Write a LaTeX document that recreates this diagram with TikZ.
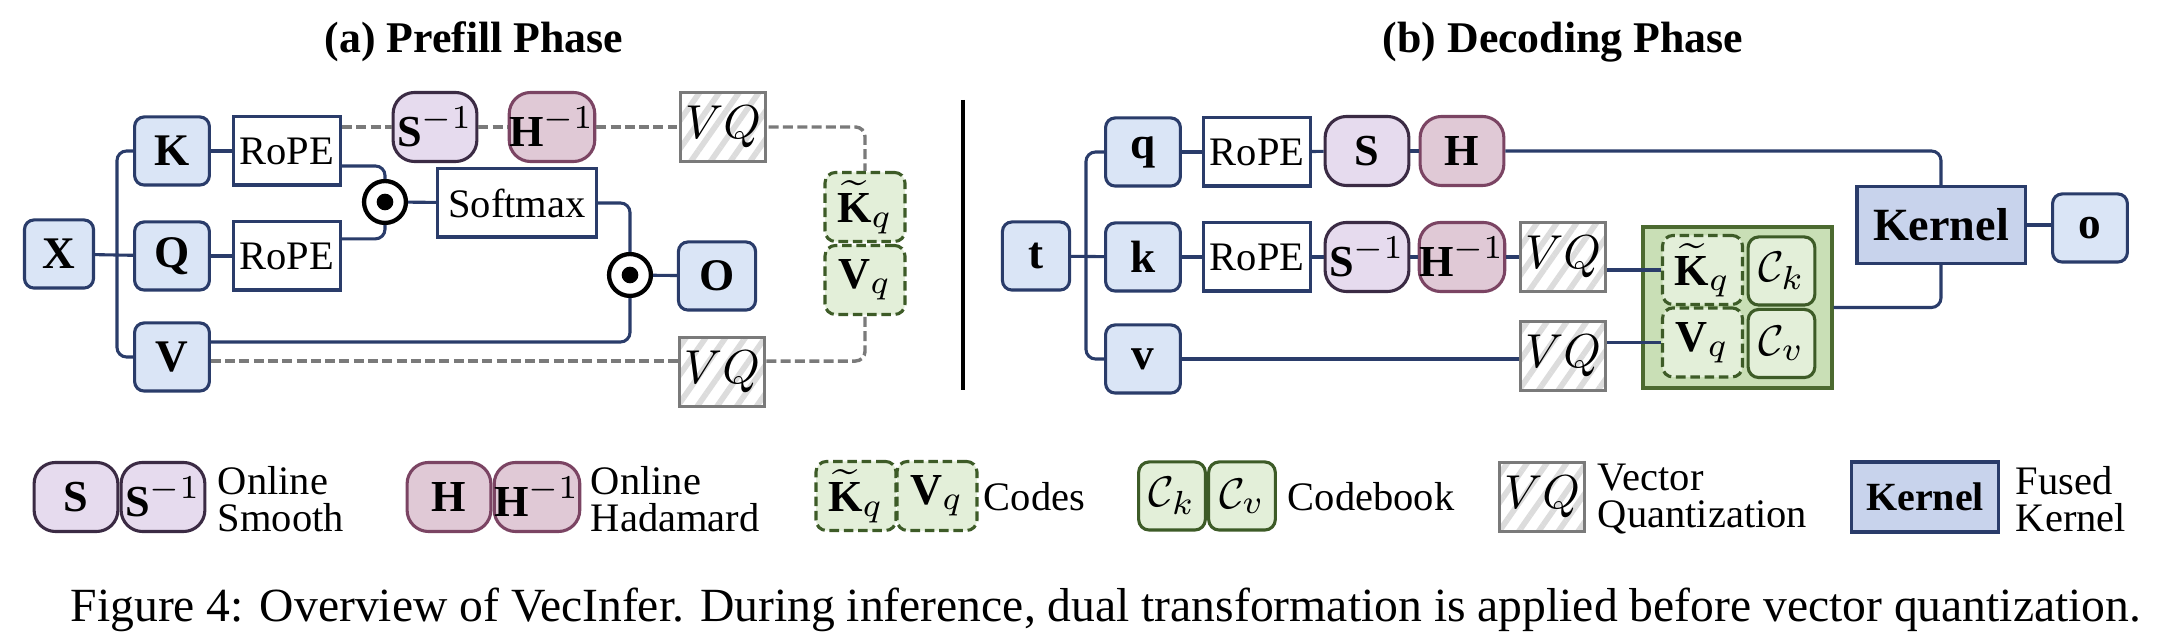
\documentclass[tikz,border=0pt]{standalone}
\usepackage{amsmath}
\usepackage{amssymb}
\usepackage{xcolor}
\usepackage{fontspec}
\setmainfont{Liberation Serif}
\usetikzlibrary{patterns.meta}
\definecolor{navy}{HTML}{2A3C6A}
\definecolor{vecfill}{HTML}{DAE5F6}
\definecolor{kernfill}{HTML}{C8D3EC}
\definecolor{smfill}{HTML}{E6DBEE}
\definecolor{smline}{HTML}{3B2B44}
\definecolor{hdfill}{HTML}{E0C9D6}
\definecolor{hdline}{HTML}{7B4463}
\definecolor{codefill}{HTML}{E3EFD9}
\definecolor{codeline}{HTML}{3D5B27}
\definecolor{bookfill}{HTML}{C9DFB6}
\definecolor{bookline}{HTML}{4C6A30}
\definecolor{vqline}{HTML}{7A7A7A}
\definecolor{vqstripe}{HTML}{DCDCDC}
\newlength{\lw}
\setlength{\lw}{0.65pt}

\tikzset{
  vecbox/.style={draw=navy,fill=vecfill,line width=\lw,rounded corners=2pt,
    minimum width=15.7pt,minimum height=14.3pt,inner sep=0pt,font={\fontsize{9.5}{11}\selectfont}},
  ropebox/.style={draw=navy,fill=white,line width=\lw,minimum width=22.5pt,
    minimum height=14.3pt,inner sep=0pt,font={\fontsize{8.5}{10}\selectfont}},
  smbox/.style={draw=smline,fill=smfill,line width=\lw,rounded corners=4.5pt,
    minimum width=17.6pt,minimum height=14.5pt,inner sep=0pt,font={\fontsize{9.3}{11}\selectfont}},
  hdbox/.style={smbox,draw=hdline,fill=hdfill},
  vqbox/.style={draw=vqline,line width=\lw,pattern={Lines[angle=55,distance=3.4pt,line width=1.2pt]},
    pattern color=vqstripe,minimum width=18pt,minimum height=14.5pt,inner sep=0pt,
    font={\fontsize{10}{12}\selectfont}},
  codebox/.style={draw=codeline,fill=codefill,line width=\lw,dash pattern=on 2pt off 1pt,
    rounded corners=2.2pt,minimum width=16.8pt,minimum height=14.5pt,inner sep=0pt,
    font={\fontsize{9.3}{11}\selectfont}},
  bookbox/.style={codebox,solid,minimum width=14pt,minimum height=14.3pt},
  kernbox/.style={draw=navy,fill=kernfill,line width=\lw,minimum width=35.3pt,
    minimum height=16.2pt,inner sep=0pt,font={\fontsize{9.7}{11}\selectfont\bfseries}},
  dotop/.style={circle,draw=black,line width=0.9pt,fill=white,minimum size=8.8pt,inner sep=0pt},
  conn/.style={draw=navy,line width=\lw,rounded corners=2pt},
  dashconn/.style={draw=vqline,line width=0.72pt,dash pattern=on 2.1pt off 0.9pt,rounded corners=2pt},
  titletext/.style={anchor=base,font={\fontsize{9.2}{11}\selectfont\bfseries}},
  legtext/.style={anchor=west,align=left,inner sep=0pt,font={\fontsize{8.5}{7.8}\selectfont}}
}

\begin{document}
\begin{tikzpicture}[x=0.21pt,y=-0.21pt]
            \useasboundingbox (0,0) rectangle (2166,640);
            % (a) prefill
            \node[titletext] (ta) at (474,53) {(a) Prefill Phase};
            \node[vecbox,minimum width=14.5pt] (xx) at (59,254) {\textbf{X}};
            \node[vecbox] (kk) at (172,151) {\textbf{K}};
            \node[vecbox] (qq) at (172,256) {\textbf{Q}};
            \node[vecbox] (vv) at (172,357) {\textbf{V}};
            \node[ropebox] (ropeK) at (287,151) {RoPE};
            \node[ropebox] (ropeQ) at (287,256) {RoPE};
            \node[dotop] (dot1) at (385,202) {};
            \node[ropebox,minimum width=33.4pt] (soft) at (517,203) {Softmax};
            \node[dotop] (dot2) at (630,275) {};
            \node[vecbox,minimum width=16.2pt] (oo) at (717,276) {\textbf{O}};
            \node[smbox] (s1) at (435,127) {$\textbf{S}^{-1}$};
            \node[hdbox] (h1) at (552,127) {$\textbf{H}^{-1}$};
            \node[vqbox] (vq1) at (723,127) {$VQ$};
            \node[vqbox] (vq2) at (722,372) {$VQ$};
            \node[codebox] (kqp) at (865,207) {$\widetilde{\textbf{K}}_q$};
            \node[codebox] (vqp) at (865,280) {$\textbf{V}_q$};
            \fill (dot1) circle[radius=1.75pt];
            \fill (dot2) circle[radius=1.75pt];
            \coordinate (xtr) at (117,254);
            \draw[conn] (xx) -- (qq);
            \draw[conn] (kk.west) -| (xtr) |- (vv.west);
            \draw[conn] (kk) -- (ropeK);
            \draw[conn] (qq) -- (ropeQ);
            \draw[conn] ([yshift=-3.15pt]ropeK.east) -| (dot1.north);
            \draw[conn] ([yshift=3.6pt]ropeQ.east) -| (dot1.south);
            \draw[conn] (dot1) -- (soft);
            \draw[conn] (soft.east) -| (dot2.north);
            \draw[conn] ([yshift=3.15pt]vv.east) -| (dot2.south);
            \draw[conn] (dot2) -- (oo);
            \draw[dashconn] (ropeK.east |- s1.west) -- (s1.west);
            \draw[dashconn] (s1) -- (h1);
            \draw[dashconn] (h1) -- (vq1);
            \draw[dashconn] (vq1.east) -| (kqp.north);
            \coordinate (vdash) at ([yshift=-0.85pt]vv.east);
            \draw[dashconn] (vdash) -- (vdash -| vq2.west);
            \draw[dashconn] (vdash -| vq2.east) -| (vqp.south);
            \coordinate (sept) at (963,100);
            \coordinate (sepb) at (963,390);
            \draw[line width=0.75pt] (sept) -- (sepb);
            % (b) decoding
            \node[titletext] (tb) at (1563,53) {(b) Decoding Phase};
            \node[vecbox,minimum width=14.1pt] (tt) at (1036,256) {\textbf{t}};
            \node[vecbox] (qb) at (1143,152) {\textbf{q}};
            \node[vecbox] (kb) at (1143,257) {\textbf{k}};
            \node[vecbox] (vb) at (1143,359) {\textbf{v}};
            \node[ropebox] (ropeq) at (1257,152) {RoPE};
            \node[ropebox] (ropek) at (1257,257) {RoPE};
            \node[smbox] (sq) at (1367,151) {$\textbf{S}$};
            \node[hdbox] (hq) at (1462,151) {$\textbf{H}$};
            \node[smbox] (s1k) at (1367,257) {$\textbf{S}^{-1}$};
            \node[hdbox] (h1k) at (1462,257) {$\textbf{H}^{-1}$};
            \node[vqbox] (vqk) at (1563,257) {$VQ$};
            \node[vqbox] (vqv) at (1563,356) {$VQ$};
            \node[draw=bookline,fill=bookfill,line width=\lw,minimum width=39.7pt,minimum height=33.8pt] (book) at (1737.5,307.5) {};
            \node[codebox] (kqin) at (1702.5,270) {$\widetilde{\textbf{K}}_q$};
            \node[bookbox] (ckin) at (1781.5,271) {$\mathcal{C}_k$};
            \node[codebox] (vqin) at (1702.5,342.5) {$\textbf{V}_q$};
            \node[bookbox] (cvin) at (1781.5,343.5) {$\mathcal{C}_v$};
            \node[kernbox] (kern) at (1941,225) {Kernel};
            \node[vecbox] (ob) at (2090,228) {\textbf{o}};
            \coordinate (ttr) at (1086,257);
            \draw[conn] (tt) -- (kb);
            \draw[conn] (qb.west) -| (ttr) |- (vb.west);
            \foreach \a/\b in {qb/ropeq,ropeq/sq,sq/hq,kb/ropek,ropek/s1k,s1k/h1k,h1k/vqk}
              \draw[conn] (\a) -- (\b);
            \draw[conn] (vb.east) -- (vb.east -| vqv.west);
            \draw[conn] (vqk.east |- kqin.west) -- (kqin.west);
            \draw[conn] (vqv.east |- vqin.west) -- (vqin.west);
            \draw[conn] (hq.east) -| (kern.north);
            \draw[conn] (book.east) -| (kern.south);
            \draw[conn] (kern.east) -- (kern.east -| ob.west);
            % legend
            \node[smbox] (lsa) at (76,497) {$\textbf{S}$};
            \node[smbox] (lsb) at (163,497) {$\textbf{S}^{-1}$};
            \node[legtext] (lsm) at (217,499) {Online\\Smooth};
            \node[hdbox] (lha) at (449,497) {$\textbf{H}$};
            \node[hdbox] (lhb) at (537,497) {$\textbf{H}^{-1}$};
            \node[legtext] (lhd) at (590,499) {Online\\Hadamard};
            \node[codebox] (lka) at (856,496) {$\widetilde{\textbf{K}}_q$};
            \node[codebox] (lkb) at (937,496) {$\textbf{V}_q$};
            \node[legtext] (lcd) at (983,497) {Codes};
            \node[bookbox] (lca) at (1172,496) {$\mathcal{C}_k$};
            \node[bookbox] (lcb) at (1242,496) {$\mathcal{C}_v$};
            \node[legtext] (lcbk) at (1287,497) {Codebook};
            \node[vqbox] (lvq) at (1542,497) {$VQ$};
            \node[legtext] (lvqt) at (1597,499) {Vector\\Quantization};
            \node[kernbox,minimum width=30.7pt,minimum height=14.7pt,font={\fontsize{8.4}{10}\selectfont\bfseries}] (lkern) at (1925,497) {Kernel};
            \node[legtext] (lfk) at (2015,499) {Fused\\Kernel};
            \node[anchor=base,font={\fontsize{10}{12}\selectfont}] (cap) at (1106,622) {Figure 4: Overview of VecInfer. During inference, dual transformation is applied before vector quantization.};
\end{tikzpicture}
\end{document}
